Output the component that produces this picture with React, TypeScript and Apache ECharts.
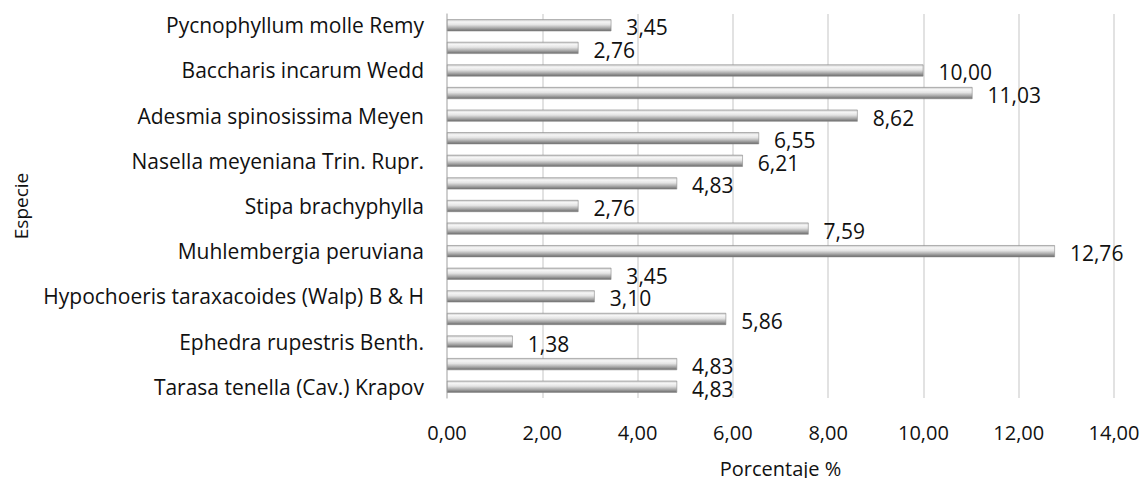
import React, { useEffect, useRef } from "react";
import * as echarts from "echarts";

// Species, listed bottom to top; unnamed rows carry no label on the axis
const species: string[] = [
  "Tarasa tenella (Cav.) Krapov",
  "",
  "Ephedra rupestris Benth.",
  "",
  "Hypochoeris taraxacoides (Walp) B & H",
  "",
  "Muhlembergia peruviana",
  "",
  "Stipa brachyphylla",
  "",
  "Nasella meyeniana Trin. Rupr.",
  "",
  "Adesmia spinosissima Meyen",
  "",
  "Baccharis incarum Wedd",
  "",
  "Pycnophyllum molle Remy",
];

// Percentage per species, same order
const percentages: number[] = [
  4.83, 4.83, 1.38, 5.86, 3.1, 3.45, 12.76, 7.59, 2.76, 4.83, 6.21, 6.55, 8.62,
  11.03, 10.0, 2.76, 3.45,
];

const xTicks = { min: 0, max: 14, interval: 2 };

const FONT = "'Open Sans', 'Liberation Sans', sans-serif";
const INK = "#111111";
const fmt = (v: number) => v.toFixed(2).replace(".", ",");

export default function App() {
  const ref = useRef<HTMLDivElement>(null);

  useEffect(() => {
    if (!ref.current) return;
    const chart = echarts.init(ref.current, undefined, { renderer: "svg" });

    // Shaded cylinder look for each bar
    const cylinder = new echarts.graphic.LinearGradient(0, 0, 0, 1, [
      { offset: 0, color: "#c8c8c8" },
      { offset: 0.2, color: "#f6f6f6" },
      { offset: 0.45, color: "#e4e4e4" },
      { offset: 0.75, color: "#a6a6a6" },
      { offset: 1, color: "#6a6a6a" },
    ]);

    chart.setOption({
      animation: false,
      backgroundColor: "#ffffff",
      grid: {
        left: 447,
        right: 29,
        top: 14,
        bottom: 80,
        containLabel: false,
        outerBoundsMode: "none",
      },
      xAxis: {
        type: "value",
        min: xTicks.min,
        max: xTicks.max,
        interval: xTicks.interval,
        name: "Porcentaje %",
        nameLocation: "middle",
        nameGap: 60,
        nameMoveOverlap: false,
        nameTextStyle: {
          fontFamily: FONT,
          fontSize: 20,
          lineHeight: 20,
          color: INK,
        },
        axisLine: { show: false },
        axisTick: { show: false },
        axisLabel: {
          margin: 24,
          fontFamily: FONT,
          fontSize: 20,
          color: INK,
          formatter: (v: number) => fmt(v),
        },
        splitLine: { show: true, lineStyle: { color: "#d9d9d9", width: 1.5 } },
      },
      yAxis: {
        type: "category",
        data: species,
        name: "Especie",
        nameLocation: "middle",
        nameGap: 417,
        nameRotate: 90,
        nameMoveOverlap: false,
        nameTextStyle: { fontFamily: FONT, fontSize: 19, color: INK },
        axisLine: { show: true, lineStyle: { color: "#c8c8c8", width: 1.5 } },
        axisTick: { show: false },
        axisLabel: {
          interval: 0,
          margin: 23,
          fontFamily: FONT,
          fontSize: 21,
          color: INK,
        },
        splitLine: { show: false },
      },
      series: [
        {
          type: "bar",
          data: percentages,
          barWidth: 12,
          itemStyle: {
            color: cylinder,
            borderColor: "#8a8a8a",
            borderWidth: 0.6,
          },
          label: {
            show: true,
            position: "right",
            distance: 15,
            offset: [0, 2],
            fontFamily: FONT,
            fontSize: 21,
            color: INK,
            formatter: (p: any) => fmt(p.value),
          },
        },
      ],
    });

    return () => chart.dispose();
  }, []);

  return (
    <div
      ref={ref}
      style={{ position: "fixed", left: 0, top: 0, width: 1143, height: 478 }}
    />
  );
}
